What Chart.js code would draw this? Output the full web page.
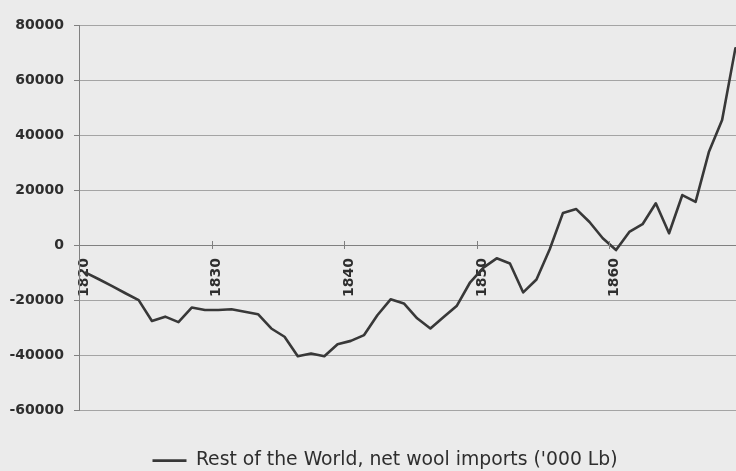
<!DOCTYPE html>
<html>
<head>
<meta charset="utf-8">
<script src="https://cdn.jsdelivr.net/npm/chart.js@4"></script>
<style>
  html, body { margin: 0; padding: 0; background: #ebebeb; overflow: hidden; }
  #wrap { width: 742px; height: 480px; }
  canvas { display: block; }
</style>
</head>
<body>
<div id="wrap"><canvas id="chart" width="742" height="480"></canvas></div>
<script>
// Years on the category axis
const years = [
  1820, 1821, 1822, 1823, 1824, 1825, 1826, 1827, 1828, 1829,
  1830, 1831, 1832, 1833, 1834, 1835, 1836, 1837, 1838, 1839,
  1840, 1841, 1842, 1843, 1844, 1845, 1846, 1847, 1848, 1849,
  1850, 1851, 1852, 1853, 1854, 1855, 1856, 1857, 1858, 1859,
  1860, 1861, 1862, 1863, 1864, 1865, 1866, 1867, 1868, 1869
];

// Net wool imports, thousands of lb
const netWoolImports = [
  -10000, -12400, -14900, -17500, -20000, -27600, -26000, -28000, -22700, -23600,
  -23600, -23300, -24200, -25100, -30300, -33300, -40400, -39400, -40400, -36000,
  -34800, -32700, -25500, -19700, -21200, -26600, -30300, -26100, -22000, -13500,
  -8200, -4800, -6700, -17200, -12500, -1500, 11700, 13100, 8400, 2500,
  -1800, 4800, 7600, 15200, 4300, 18200, 15700, 33800, 45500, 71500
];

const seriesName = "Rest of the World, net wool imports ('000 Lb)";
const yTicks = [-60000, -40000, -20000, 0, 20000, 40000, 60000, 80000];
const labelEvery = 10;

const gridGray = '#a4a4a4';
const axisGray = '#808080';
const textColor = '#2e2e2e';

// Nudges the bottom legend sideways after layout
const legendShift = {
  id: 'legendShift',
  afterLayout(chart, args, opts) {
    if (chart.legend) {
      chart.legend.left += opts.dx;
      chart.legend.right += opts.dx;
    }
  }
};

// Cross-style tick marks on the zero axis, at the category boundaries every ten years
const crossTicks = {
  id: 'crossTicks',
  afterDraw(chart, args, opts) {
    const x = chart.scales.x;
    const y0 = Math.round(chart.scales.y.getPixelForValue(0));
    const half = (x.getPixelForValue(1) - x.getPixelForValue(0)) / 2;
    const ctx = chart.ctx;
    ctx.save();
    ctx.strokeStyle = axisGray;
    ctx.lineWidth = 1;
    years.forEach((yr, i) => {
      if (yr % labelEvery !== 0 || i === 0) return;
      const px = Math.round(x.getPixelForValue(i) - half) + 0.5;
      ctx.beginPath();
      ctx.moveTo(px, y0 - opts.len);
      ctx.lineTo(px, y0 + opts.len);
      ctx.stroke();
    });
    ctx.restore();
  }
};

new Chart(document.getElementById('chart'), {
  type: 'line',
  data: {
    labels: years,
    datasets: [{
      label: seriesName,
      data: netWoolImports,
      borderColor: '#383838',
      backgroundColor: '#383838',
      borderWidth: 2.6,
      pointRadius: 0,
      tension: 0,
      borderJoinStyle: 'round',
      borderCapStyle: 'round',
      fill: false
    }]
  },
  options: {
    responsive: false,
    animation: false,
    layout: { padding: { top: 25, left: 0, right: 0, bottom: 0 } },
    plugins: {
      legendShift: { dx: 14 },
      crossTicks: { len: 4 },
      tooltip: { enabled: false },
      legend: {
        position: 'bottom',
        labels: {
          usePointStyle: true,
          pointStyle: 'line',
          pointStyleWidth: 34,
          padding: 41,
          color: textColor,
          font: { family: 'DejaVu Sans', size: 18.8 }
        }
      }
    },
    scales: {
      x: {
        type: 'category',
        position: { y: 0 },
        offset: true,
        afterFit: (scale) => {
          scale.paddingLeft = 0;
          scale.paddingRight = 0;
        },
        grid: {
          offset: true,
          drawOnChartArea: false,
          drawTicks: true,
          tickLength: 4,
          tickColor: 'rgba(0,0,0,0)'
        },
        border: { display: true, color: axisGray, width: 1 },
        ticks: {
          autoSkip: false,
          minRotation: 90,
          maxRotation: 90,
          padding: 9,
          labelOffset: -1.5,
          color: textColor,
          font: { family: 'DejaVu Sans', size: 14, weight: 'bold' },
          callback: function (value, index) {
            const y = years[index];
            return y % labelEvery === 0 ? String(y) : '';
          }
        }
      },
      y: {
        min: yTicks[0],
        max: yTicks[yTicks.length - 1],
        afterFit: (scale) => { scale.width = 79; },
        afterBuildTicks: (scale) => { scale.ticks = yTicks.map(v => ({ value: v })); },
        grid: {
          color: gridGray,
          lineWidth: 1,
          drawTicks: true,
          tickLength: 5,
          tickColor: axisGray
        },
        border: { display: true, color: axisGray, width: 1 },
        ticks: {
          padding: 10,
          color: textColor,
          font: { family: 'DejaVu Sans', size: 14, weight: 'bold' },
          callback: (v) => String(v)
        }
      }
    }
  },
  plugins: [legendShift, crossTicks]
});
</script>
</body>
</html>
